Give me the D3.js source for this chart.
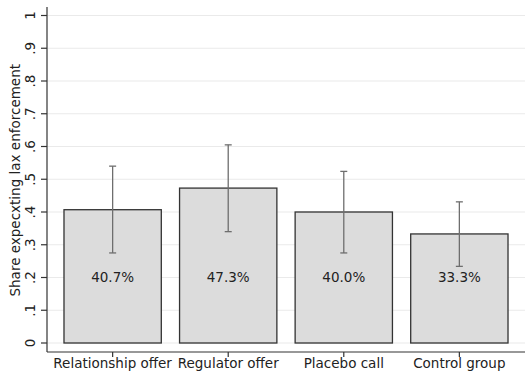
<!DOCTYPE html>
<html>
<head>
<meta charset="utf-8">
<script src="https://cdn.jsdelivr.net/npm/d3@7"></script>
<style>
  html, body { margin: 0; padding: 0; background: #fff; }
  text { font-family: "DejaVu Sans", sans-serif; }
</style>
</head>
<body>
<svg id="chart" width="526" height="373"></svg>
<script>
// Treatment groups and share expecting lax enforcement, with 95% intervals
const categories = ["Relationship offer", "Regulator offer", "Placebo call", "Control group"];
const shares = [0.407, 0.473, 0.400, 0.333];
const ciLow = [0.275, 0.340, 0.275, 0.234];
const ciHigh = [0.540, 0.605, 0.524, 0.431];
const barLabels = ["40.7%", "47.3%", "40.0%", "33.3%"];
const yTicks = [0, 0.1, 0.2, 0.3, 0.4, 0.5, 0.6, 0.7, 0.8, 0.9, 1];
const yTickLabels = ["0", ".1", ".2", ".3", ".4", ".5", ".6", ".7", ".8", ".9", "1"];
const yTitle = "Share expecxting lax enforcement";

const svg = d3.select("#chart");
const left = 47, right = 525, axisY = 352;

const y = d3.scaleLinear().domain([0, 1]).range([343, 15.5]);
const x = d3.scaleBand().domain(categories).range([left, right])
  .paddingInner(0.158).paddingOuter(0.147);

// Horizontal gridlines
svg.append("g").selectAll("line").data(yTicks).join("line")
  .attr("x1", left).attr("x2", right)
  .attr("y1", d => y(d)).attr("y2", d => y(d))
  .attr("stroke", "#eaeaea").attr("stroke-width", 1.2);

// Bars
svg.append("g").selectAll("rect").data(shares).join("rect")
  .attr("x", (d, i) => x(categories[i]))
  .attr("width", x.bandwidth())
  .attr("y", d => y(d))
  .attr("height", d => y(0) - y(d))
  .attr("fill", "#dcdcdc").attr("stroke", "#333").attr("stroke-width", 1.3);

// Confidence interval whiskers
const eb = svg.append("g").attr("stroke", "#6e6e6e").attr("stroke-width", 1.3);
categories.forEach((c, i) => {
  const cx = x(c) + x.bandwidth() / 2;
  eb.append("line").attr("x1", cx).attr("x2", cx).attr("y1", y(ciLow[i])).attr("y2", y(ciHigh[i]));
  [ciLow[i], ciHigh[i]].forEach(v => {
    eb.append("line").attr("x1", cx - 3.5).attr("x2", cx + 3.5).attr("y1", y(v)).attr("y2", y(v));
  });
});

// Value labels inside bars
svg.append("g").selectAll("text").data(barLabels).join("text")
  .attr("x", (d, i) => x(categories[i]) + x.bandwidth() / 2)
  .attr("y", y(0.2))
  .attr("dy", "0.35em")
  .attr("text-anchor", "middle")
  .attr("font-size", 13.5).attr("fill", "#222")
  .text(d => d);

// Y axis
const yAxis = svg.append("g");
yAxis.append("line").attr("x1", left).attr("x2", left).attr("y1", 7).attr("y2", axisY)
  .attr("stroke", "#333").attr("stroke-width", 1.2);
yAxis.selectAll("line.tick").data(yTicks).join("line").attr("class", "tick")
  .attr("x1", left - 6).attr("x2", left)
  .attr("y1", d => y(d)).attr("y2", d => y(d))
  .attr("stroke", "#333").attr("stroke-width", 1.2);
yAxis.selectAll("text").data(yTicks).join("text")
  .attr("transform", d => `translate(30,${y(d)}) rotate(-90)`)
  .attr("text-anchor", "middle").attr("dy", "0.35em")
  .attr("font-size", 13.5).attr("fill", "#222")
  .text((d, i) => yTickLabels[i]);
svg.append("text")
  .attr("transform", `translate(15,${y(0.5) + 1}) rotate(-90)`)
  .attr("text-anchor", "middle").attr("dy", "0.35em")
  .attr("font-size", 13.5).attr("fill", "#222")
  .text(yTitle);

// X axis
const xAxis = svg.append("g");
xAxis.append("line").attr("x1", left).attr("x2", right).attr("y1", axisY).attr("y2", axisY)
  .attr("stroke", "#333").attr("stroke-width", 1.2);
xAxis.selectAll("line.tick").data(categories).join("line").attr("class", "tick")
  .attr("x1", d => x(d) + x.bandwidth() / 2).attr("x2", d => x(d) + x.bandwidth() / 2)
  .attr("y1", axisY).attr("y2", axisY + 5)
  .attr("stroke", "#333").attr("stroke-width", 1.2);
xAxis.selectAll("text").data(categories).join("text")
  .attr("x", d => x(d) + x.bandwidth() / 2)
  .attr("y", 368)
  .attr("text-anchor", "middle")
  .attr("font-size", 13.5).attr("fill", "#222")
  .text(d => d);
</script>
</body>
</html>
